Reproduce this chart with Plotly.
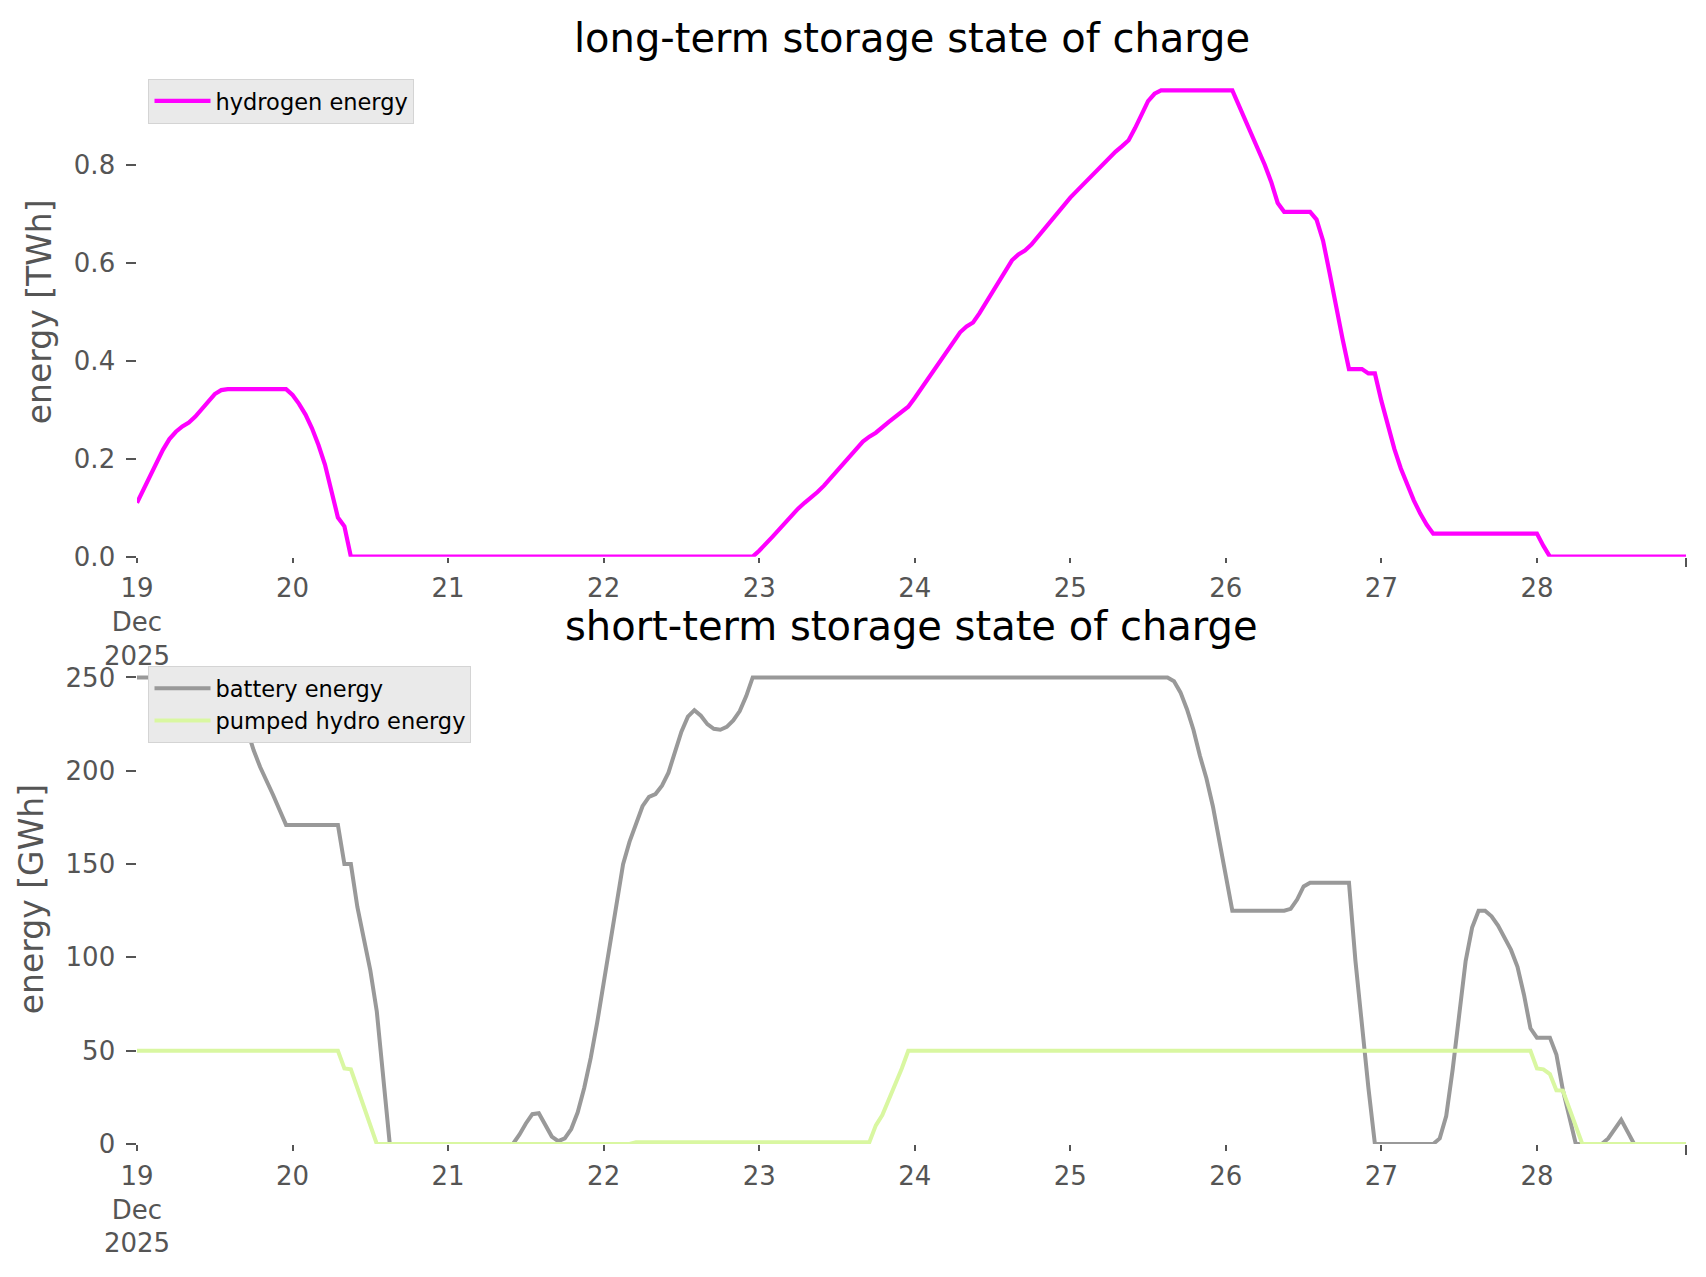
import pandas as pd
import plotly.graph_objects as go

# ---------------- data (hours after 2025-12-19 00:00) ----------------
start = pd.Timestamp("2025-12-19 00:00")
end_hour = 239

hydrogen_hours = [0, 1, 2, 3, 4, 5, 6, 7, 8, 9, 10, 11, 12, 13, 14, 23, 24, 25, 26, 27, 28,
                  29, 30, 31, 32, 33, 95, 96, 98, 100, 102, 103, 104, 105, 106, 108, 110,
                  111, 112, 113, 114, 116, 118, 119, 120, 122, 124, 126, 127, 128, 129, 130,
                  132, 134, 135, 136, 137, 138, 140, 142, 144, 146, 148, 150, 151, 152, 153,
                  154, 155, 156, 157, 158, 169, 170, 172, 174, 175, 176, 177, 181, 182, 183,
                  184, 185, 186, 187, 189, 190, 191, 192, 193, 194, 195, 196, 197, 198, 199,
                  200, 216, 217, 218, 239]
hydrogen_twh = [0.110, 0.138, 0.165, 0.192, 0.218, 0.240, 0.255, 0.266, 0.274, 0.286, 0.302,
                0.318, 0.332, 0.340, 0.342, 0.342, 0.330, 0.312, 0.290, 0.262, 0.228, 0.188,
                0.138, 0.080, 0.062, 0.000, 0.000, 0.012, 0.040, 0.070, 0.098, 0.110, 0.120,
                0.132, 0.145, 0.175, 0.207, 0.222, 0.235, 0.245, 0.253, 0.275, 0.297, 0.306,
                0.324, 0.363, 0.403, 0.442, 0.458, 0.470, 0.478, 0.497, 0.540, 0.584, 0.605,
                0.617, 0.625, 0.637, 0.668, 0.702, 0.733, 0.760, 0.788, 0.815, 0.827, 0.838,
                0.850, 0.875, 0.905, 0.930, 0.945, 0.952, 0.952, 0.922, 0.858, 0.800, 0.765,
                0.722, 0.704, 0.704, 0.688, 0.645, 0.580, 0.510, 0.445, 0.383, 0.383, 0.374,
                0.374, 0.318, 0.265, 0.220, 0.180, 0.147, 0.115, 0.088, 0.065, 0.047, 0.047,
                0.022, 0.000, 0.000]

battery_hours = [0, 14, 15, 16, 17, 18, 19, 20, 21, 22, 23, 31, 32, 33, 34, 35, 36, 37, 38, 39,
                 58, 59, 60, 61, 62, 63, 64, 65, 66, 67, 68, 69, 70, 71, 72, 73, 74, 75, 76,
                 77, 78, 79, 80, 81, 82, 83, 84, 85, 86, 87, 88, 89, 90, 91, 92, 93, 94, 95,
                 159, 160, 161, 162, 163, 164, 165, 166, 167, 168, 169, 177, 178, 179, 180,
                 181, 187, 188, 189, 190, 191, 200, 201, 202, 203, 204, 205, 206, 207, 208,
                 209, 210, 211, 212, 213, 214, 215, 216, 218, 219, 220, 221, 222, 226, 227,
                 228, 229, 230, 231, 239]
battery_gwh = [250, 250, 246, 236, 222, 211, 202, 195, 187, 179, 171, 171, 150, 150, 127, 110,
               93, 71, 35, 0, 0, 5, 11, 16, 16.5, 10, 4, 1.5, 3, 8, 17, 30, 46, 65, 87, 109,
               130, 150, 162, 172, 181, 186, 187.5, 192, 199, 210, 221, 229, 232.5, 229.5, 225,
               222.5, 222, 223.5, 227, 232, 240, 250, 250, 248, 242, 233, 222, 208, 196, 181,
               163, 144, 125, 125, 126, 131, 138, 140, 140, 98, 63, 30, 0, 0, 3, 15, 40, 70,
               98, 116, 125, 125, 122, 117, 111, 104, 95, 80, 62, 57, 57, 48, 29, 14, 0, 0, 3,
               8, 13, 6.5, 0, 0]

phs_hours = [0, 31, 32, 33, 34, 35, 36, 37, 76, 77, 113, 114, 115, 116, 117, 118, 119, 215,
             216, 217, 218, 219, 220, 221, 222, 223, 239]
phs_gwh = [50, 50, 40.5, 40, 30, 20.4, 10.7, 0, 0, 1, 1, 10, 15.5, 23.5, 32, 40.5, 50, 50,
           40.5, 40, 37.5, 28.8, 28.6, 18.7, 8.8, 0, 0]

day_labels = ["19<br>Dec<br>2025", "20", "21", "22", "23", "24", "25", "26", "27", "28"]
day_numbers = [19, 20, 21, 22, 23, 24, 25, 26, 27, 28]

top_title = "long-term storage state of charge"
bottom_title = "short-term storage state of charge"
top_ylabel = "energy [TWh]"
bottom_ylabel = "energy [GWh]"
top_yticks = [0.0, 0.2, 0.4, 0.6, 0.8]
bottom_yticks = [0, 50, 100, 150, 200, 250]


def to_time(hours):
    return [start + pd.Timedelta(hours=h) for h in hours]


t_end = start + pd.Timedelta(hours=end_hour)
day_ticks = [pd.Timestamp(year=2025, month=12, day=d) for d in day_numbers]

# ---------------- figure ----------------
FONT = "DejaVu Sans"
GREY = "#555555"
OFF = 8                      # page body margin
W, H = 1706 - 2 * OFF, 1277 - 2 * OFF
PL, PR, PT, PB = 136.5, 1686, 66.7, 1144   # plot area in page pixels
ML, MR = PL - OFF, W - (PR - OFF)
MT, MB = PT - OFF, H - (PB - OFF)
plot_h = H - MT - MB
plot_w = W - ML - MR


def frac(ypix):
    return (H - MB - (ypix - OFF)) / plot_h


fig = go.Figure()
fig.add_trace(go.Scatter(x=to_time(hydrogen_hours), y=hydrogen_twh, mode="lines",
                         name="hydrogen energy", line=dict(color="#ff00ff", width=4.2),
                         xaxis="x", yaxis="y", legend="legend", showlegend=True))
fig.add_trace(go.Scatter(x=to_time(battery_hours), y=battery_gwh, mode="lines",
                         name="battery energy", line=dict(color="#999999", width=4),
                         xaxis="x2", yaxis="y2", legend="legend2", showlegend=True))
fig.add_trace(go.Scatter(x=to_time(phs_hours), y=phs_gwh, mode="lines",
                         name="pumped hydro energy", line=dict(color="#d9f7a1", width=4),
                         xaxis="x2", yaxis="y2", legend="legend2", showlegend=True))

xaxis_style = dict(type="date", range=[start, t_end], showgrid=False, zeroline=False,
                   showline=False, ticks="outside", tickcolor=GREY, tickwidth=1.5,
                   tickfont=dict(family=FONT, size=26, color=GREY),
                   tickmode="array", tickvals=day_ticks, ticktext=day_labels, ticklen=5.5,
                   ticklabelstandoff=3,
                   minor=dict(tickmode="array", tickvals=[t_end], ticklen=9.6, ticks="outside",
                              tickcolor=GREY, tickwidth=1.5, showgrid=False))

top_dom = [frac(556.5), frac(66.7)]
bot_dom = [frac(1144), frac(654)]

yaxis_style = dict(showgrid=False, zeroline=False, showline=False, ticks="outside",
                   tickcolor=GREY, tickwidth=1.5, ticklen=9.6, ticklabelstandoff=6,
                   tickfont=dict(family=FONT, size=26, color=GREY), tickmode="array")

legend_style = dict(x=(148 - PL) / plot_w, xanchor="left", yanchor="top",
                    bgcolor="#eaeaea", bordercolor="#d4d4d4", borderwidth=1,
                    font=dict(family=FONT, size=22.5, color="black"), itemwidth=56)

fig.update_layout(
    width=W, height=H, showlegend=True,
    margin=dict(l=ML, r=MR, t=MT, b=MB, autoexpand=False),
    paper_bgcolor="white", plot_bgcolor="white",
    font=dict(family=FONT, color="black"),
    xaxis=dict(xaxis_style, domain=[0, 1], anchor="y"),
    xaxis2=dict(xaxis_style, domain=[0, 1], anchor="y2"),
    yaxis=dict(yaxis_style, domain=top_dom, range=[0, 0.9996], anchor="x",
               tickvals=top_yticks, ticktext=[f"{v:.1f}" for v in top_yticks],
               title=dict(text=top_ylabel, standoff=12,
                          font=dict(family=FONT, size=33, color=GREY))),
    yaxis2=dict(yaxis_style, domain=bot_dom, range=[0, 262.5], anchor="x2",
                tickvals=bottom_yticks, ticktext=[str(v) for v in bottom_yticks],
                title=dict(text=bottom_ylabel, standoff=12,
                           font=dict(family=FONT, size=33, color=GREY))),
    legend=dict(legend_style, y=frac(78.5)),
    legend2=dict(legend_style, y=frac(666)),
    annotations=[
        dict(text=top_title, x=0.5, y=frac(37.5), xref="paper", yref="paper",
             xanchor="center", yanchor="middle", showarrow=False,
             font=dict(family=FONT, size=40, color="black")),
        dict(text=bottom_title, x=0.5, y=frac(626), xref="paper", yref="paper",
             xanchor="center", yanchor="middle", showarrow=False,
             font=dict(family=FONT, size=40, color="black")),
    ],
)

fig.write_html("out.html")
